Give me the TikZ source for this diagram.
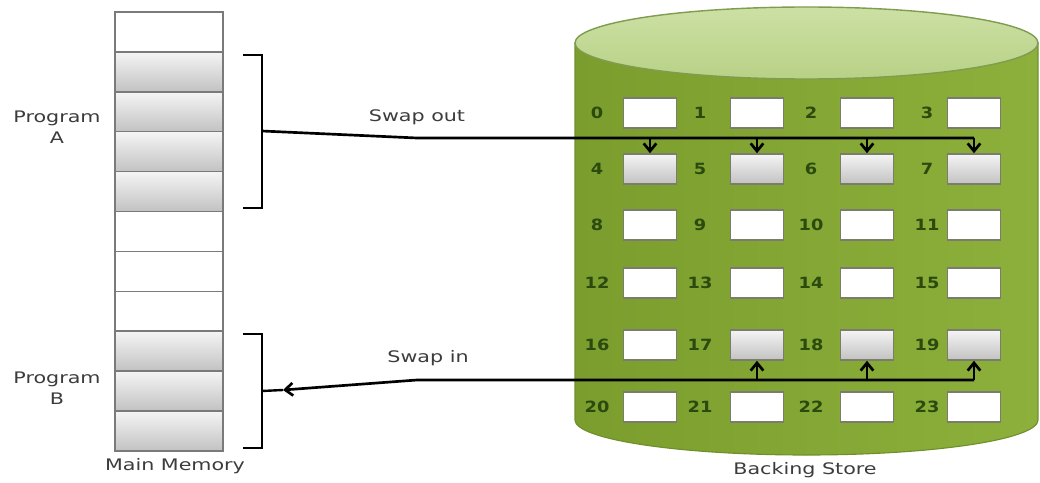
\documentclass[tikz,border=0pt]{standalone}
\usepackage{fontspec}
\newfontfamily\diagfont[FakeStretch=1.3]{DejaVu Sans}
\newfontfamily\numfont[FakeStretch=1.15]{DejaVu Sans}
\usetikzlibrary{arrows.meta, positioning}
\definecolor{cellgray}{HTML}{7A7A7A}
\definecolor{slotgray}{HTML}{7A7D6E}
\definecolor{storegreen}{HTML}{8DB03C}
\definecolor{storelight}{HTML}{A8C75E}
\definecolor{storedark}{HTML}{7B9D2D}
\definecolor{storeedge}{HTML}{6F8F2A}
\definecolor{toplight}{HTML}{CCE0A4}
\definecolor{topmid}{HTML}{B8D186}
\definecolor{topedge}{HTML}{7F9C50}
\definecolor{numgreen}{HTML}{2C4A0E}
\definecolor{textgray}{HTML}{3C3C3C}

\begin{document}
\begin{tikzpicture}[
    x=0.025cm, y=0.025cm,
    cell/.style={
        draw=cellgray, line width=1.1pt, fill=white,
        minimum width=2.7cm, minimum height=0.9975cm,
        inner sep=0pt, outer sep=0pt
    },
    used/.style={
        top color=black!4, bottom color=black!24
    },
    slot/.style={
        draw=slotgray, line width=1.1pt, fill=white,
        minimum width=1.325cm, minimum height=0.75cm,
        inner sep=0pt
    },
    num/.style={
        font=\numfont\bfseries\fontsize{11}{12}\selectfont, text=numgreen
    },
    lbl/.style={
        font=\diagfont\fontsize{11.3}{15}\selectfont, text=textgray, align=center
    },
    brace/.style={
        line width=1.7pt
    },
    wire/.style={
        line width=1.9pt
    },
    flow/.style={
        line width=1.9pt, -{Straight Barb[length=5.5pt, width=9pt]}
    }
]
\useasboundingbox (0,0) rectangle (1040,482);

% backing store cylinder
\path[draw=storeedge, line width=0.8pt,
      left color=storedark, middle color=storelight, right color=storegreen]
    (575,439) -- (575,62) arc[start angle=180, end angle=360, x radius=231.5, y radius=35]
    -- (1038,439) -- cycle;
\path[draw=topedge, line width=1pt, top color=toplight, bottom color=topmid]
    (806.5,439) ellipse[x radius=231.5, y radius=36];

% main memory
\foreach \i in {0,...,10}{
    \pgfmathtruncatemacro\isused{(\i>=1 && \i<=4) || \i>=8}
    \ifnum\isused=1
        \node[cell, used] (m\i) at (169,{470-39.9*(\i+0.5)}) {};
    \else
        \node[cell] (m\i) at (169,{470-39.9*(\i+0.5)}) {};
    \fi
}

% slots of the backing store
\foreach \r/\yy in {0/369, 1/313, 2/257, 3/199, 4/137, 5/75}{
    \foreach \c/\xx/\lx in {0/650/597, 1/757/700, 2/867/811, 3/974/927}{
        \pgfmathtruncatemacro\n{4*\r+\c}
        \pgfmathtruncatemacro\isused{(\r==1) || (\r==4 && \c>0)}
        \ifnum\isused=1
            \node[slot, used] (s\n) at (\xx,\yy) {};
        \else
            \node[slot] (s\n) at (\xx,\yy) {};
        \fi
        \node[num] (n\n) at (\lx,\yy) {\n};
    }
}

% labels
\node[lbl] (proga) at (57,355) {Program\\A};
\node[lbl] (progb) at (57,94) {Program\\B};
\node[lbl] (mainmem) at (175,16) {Main Memory};
\node[lbl] (backing) at (805,12) {Backing Store};
\node[lbl] (swapout) at (417,365) {Swap out};
\node[lbl] (swapin) at (428,124) {Swap in};

% brackets
\coordinate (aout) at (262,351);
\coordinate (bin) at (283,92);
\draw[brace] (243,427) -- (262,427) -- (262,274) -- (243,274);
\draw[brace] (243,148) -- (262,148) -- (262,34) -- (243,34);
\draw[brace] (262,91) -- (bin);

% swap out
\coordinate (outline) at (0,344);
\draw[wire] (aout) -- (417,344) -- (s7.north |- outline);
\foreach \n in {4,...,7}
    \draw[flow] (s\n.north |- outline) -- (s\n.north);

% swap in
\coordinate (inline) at (0,102);
\draw[flow] (s19.south |- inline) -- (417,102) -- (bin);
\foreach \n in {17,18,19}
    \draw[flow] (s\n.south |- inline) -- (s\n.south);

\end{tikzpicture}
\end{document}
